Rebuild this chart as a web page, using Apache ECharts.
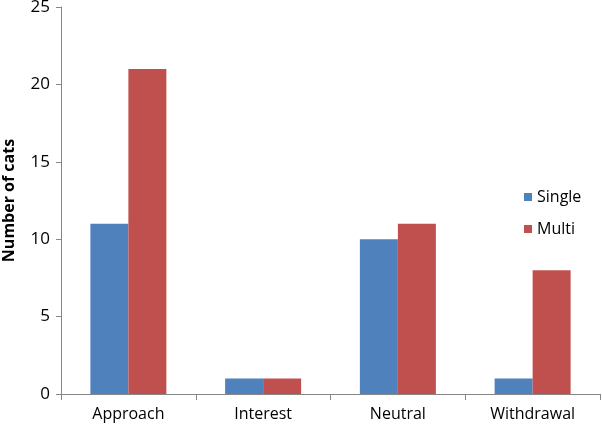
<!DOCTYPE html>
<html>
<head>
<meta charset="utf-8">
<script src="https://cdn.jsdelivr.net/npm/echarts@6/dist/echarts.min.js"></script>
<style>
  html, body { margin: 0; padding: 0; background: #fff; }
  #chart { width: 602px; height: 429px; }
</style>
</head>
<body>
<div id="chart"></div>
<script>
const categories = ['Approach', 'Interest', 'Neutral', 'Withdrawal'];
const single = [11, 1, 10, 1];
const multi = [21, 1, 11, 8];
const yTicks = { min: 0, max: 25, interval: 5 };

const chart = echarts.init(document.getElementById('chart'));
const font = '"Open Sans", sans-serif';

chart.setOption({
    backgroundColor: '#fff',
    animation: false,
    grid: { left: 61, right: 2, top: 7, bottom: 35, outerBoundsMode: 'none', containLabel: false },
    legend: {
        orient: 'vertical',
        left: 519,
        top: 184,
        itemWidth: 8,
        itemHeight: 8,
        itemGap: 16,
        icon: 'rect',
        textStyle: { fontFamily: font, fontSize: 16, color: '#000' },
        data: ['Single', 'Multi']
    },
    xAxis: {
        type: 'category',
        data: categories,
        axisLine: { lineStyle: { color: '#868686' } },
        axisTick: { show: true, length: 6, lineStyle: { color: '#868686' } },
        axisLabel: { fontFamily: font, fontSize: 16, color: '#000', margin: 12 }
    },
    yAxis: {
        type: 'value',
        min: yTicks.min,
        max: yTicks.max,
        interval: yTicks.interval,
        name: 'Number of cats',
        nameLocation: 'middle',
        nameGap: 44,
        nameTextStyle: { fontFamily: font, fontSize: 16, fontWeight: 'bold', color: '#000' },
        splitLine: { show: false },
        axisLine: { show: true, lineStyle: { color: '#868686' } },
        axisTick: { show: true, length: 5, lineStyle: { color: '#868686' } },
        axisLabel: { fontFamily: font, fontSize: 17, color: '#000', margin: 11 }
    },
    series: [
        {
            name: 'Single',
            type: 'bar',
            data: single,
            barWidth: 38,
            barGap: '0%',
            itemStyle: { color: '#4F81BD' }
        },
        {
            name: 'Multi',
            type: 'bar',
            data: multi,
            barWidth: 38,
            barGap: '0%',
            itemStyle: { color: '#C0504D' }
        }
    ]
});
</script>
</body>
</html>
